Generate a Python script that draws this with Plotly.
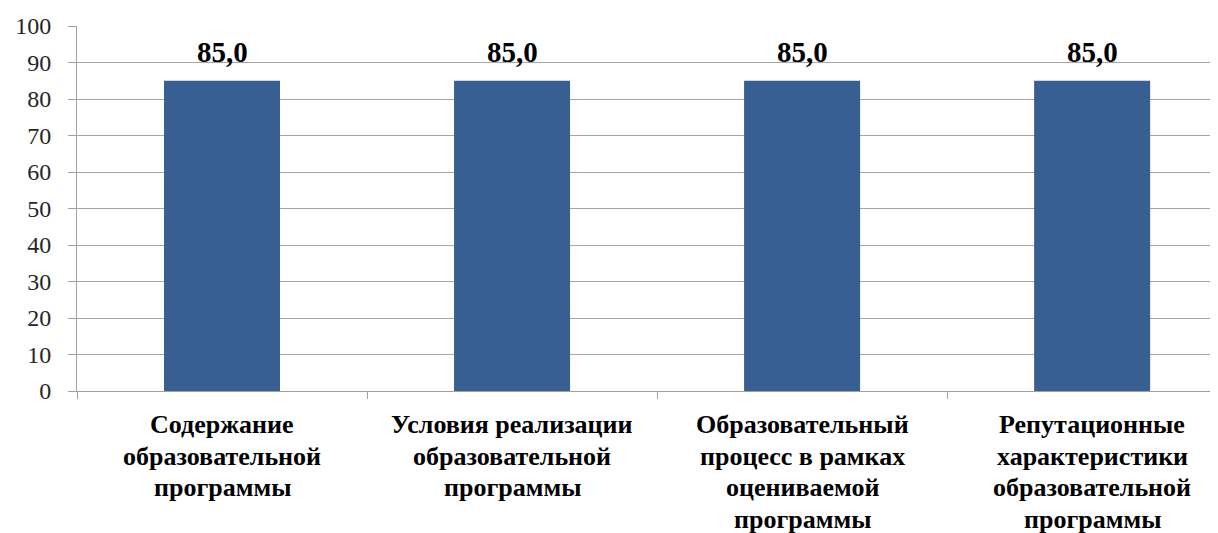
import plotly.graph_objects as go

categories = [
    "Содержание образовательной программы",
    "Условия реализации образовательной программы",
    "Образовательный процесс в рамках оцениваемой программы",
    "Репутационные характеристики образовательной программы",
]
category_lines = [
    ["Содержание", "образовательной", "программы"],
    ["Условия реализации", "образовательной", "программы"],
    ["Образовательный", "процесс в рамках", "оцениваемой", "программы"],
    ["Репутационные", "характеристики", "образовательной", "программы"],
]
values = [85.0, 85.0, 85.0, 85.0]
y_ticks = [0, 10, 20, 30, 40, 50, 60, 70, 80, 90, 100]

SERIF = "Liberation Serif"

fig = go.Figure()
fig.add_trace(go.Bar(
    x=categories, y=values, width=0.4,
    marker=dict(color="#375F91", line=dict(width=0)),
    hoverinfo="skip",
))

for c, v in zip(categories, values):
    fig.add_annotation(
        x=c, y=v, text=f"{v:.1f}".replace(".", ","),
        showarrow=False, yanchor="bottom", yshift=11,
        font=dict(family=SERIF, size=29, color="#000000", weight="bold"),
    )

# category labels, one annotation per line for Excel-like line spacing
for c, lines in zip(categories, category_lines):
    for i, line in enumerate(lines):
        fig.add_annotation(
            x=c, y=0, text=line, showarrow=False,
            yanchor="top", yshift=-17 - 31.5 * i,
            font=dict(family=SERIF, size=26, color="#000000", weight="bold"),
        )

fig.update_layout(
    template="none",
    width=1210, height=525,
    margin=dict(l=69, r=0, t=18, b=142),
    paper_bgcolor="white", plot_bgcolor="white",
    showlegend=False,
    bargap=0.6,
    font=dict(family=SERIF),
)
fig.update_xaxes(
    range=[-0.5, 3.434], automargin=False,
    showticklabels=False,
    showline=True, linecolor="#A0A0A0", linewidth=1,
    ticks="outside", ticklen=7, tickcolor="#A0A0A0", tickson="boundaries",
    showgrid=False,
)
fig.update_yaxes(
    range=[0, 100], tickvals=y_ticks, automargin=False,
    tickfont=dict(family=SERIF, size=24, color="#262626"),
    ticklabelstandoff=12,
    showline=True, linecolor="#A0A0A0", linewidth=1,
    ticks="outside", ticklen=8, tickcolor="#A0A0A0",
    showgrid=True, gridcolor="#A6A6A6", gridwidth=1,
    zeroline=False,
)

fig.write_html("out.html")
